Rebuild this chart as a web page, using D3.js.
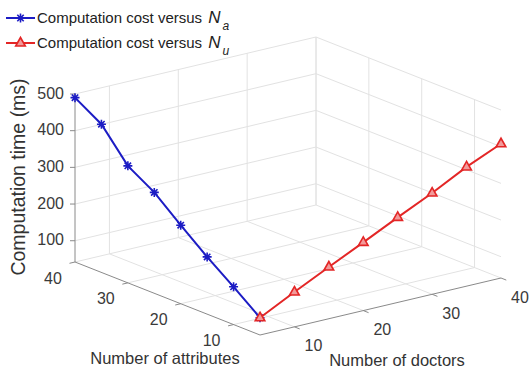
<!DOCTYPE html>
<meta charset="utf-8">
<style>

  body {
    margin: 0;
    background: #fff;
  }

  text {
    font-family: "Liberation Sans", Arial, sans-serif;
  }

  .grid line {
    stroke: #e2e2e2;
    stroke-width: 1;
  }

  .axis line {
    stroke: #8a8a8a;
    stroke-width: 1;
  }

  .tick-label {
    fill: #3a3a3a;
    font-size: 16px;
  }

  .axis-label {
    fill: #333;
    font-size: 16.5px;
  }

</style>
<svg width="532" height="369"></svg>
<script src="https://d3js.org/d3.v7.min.js"></script>
<script>

  // values
  var attributes = [5, 10, 15, 20, 25, 30, 35, 40];
  var costVsAttributes = [89, 145, 198, 256, 317, 361, 446, 490];
  var doctors = [5, 10, 15, 20, 25, 30, 35, 40];
  var costVsDoctors = [89, 137, 183, 228, 274, 318, 367, 408];

  var attributeTicks = [10, 20, 30, 40],
      doctorTicks = [10, 20, 30, 40],
      timeTicks = [100, 200, 300, 400, 500];

  var svg = d3.select("svg");

  // each scale gives the fraction along its box edge
  var na = d3.scaleLinear().domain([5, 40]).range([0, 1]),
      nu = d3.scaleLinear().domain([5, 40]).range([0, 1]),
      tz = d3.scaleLinear().domain([42, 500]).range([0, 1]);

  // screen position of the front bottom corner and screen length of each edge
  var origin = [260, 335],
      naVec = [-185, -73],
      nuVec = [241, -57],
      tzVec = [0, -168];

  function proj(a, d, z) {
    var u = na(a), v = nu(d), w = tz(z);
    return [origin[0] + u * naVec[0] + v * nuVec[0] + w * tzVec[0],
            origin[1] + u * naVec[1] + v * nuVec[1] + w * tzVec[1]];
  }

  var aMin = na.domain()[0], aMax = na.domain()[1],
      dMin = nu.domain()[0], dMax = nu.domain()[1],
      zMin = tz.domain()[0];

  function seg(g, p, q) {
    g.append("line")
      .attr("x1", p[0]).attr("y1", p[1])
      .attr("x2", q[0]).attr("y2", q[1]);
  }

  // grid on floor and the two back walls
  var grid = svg.append("g").attr("class", "grid");
  attributeTicks.forEach(function(a) {
    seg(grid, proj(a, dMin, zMin), proj(a, dMax, zMin));
    seg(grid, proj(a, dMax, zMin), proj(a, dMax, 500));
  });
  doctorTicks.forEach(function(d) {
    seg(grid, proj(aMin, d, zMin), proj(aMax, d, zMin));
    seg(grid, proj(aMax, d, zMin), proj(aMax, d, 500));
  });
  timeTicks.forEach(function(z) {
    seg(grid, proj(aMax, dMin, z), proj(aMax, dMax, z));
    seg(grid, proj(aMax, dMax, z), proj(aMin, dMax, z));
  });

  // axes
  var axis = svg.append("g").attr("class", "axis");
  seg(axis, proj(aMin, dMin, zMin), proj(aMax, dMin, zMin));
  seg(axis, proj(aMin, dMin, zMin), proj(aMin, dMax, zMin));
  seg(axis, proj(aMax, dMin, zMin), proj(aMax, dMin, 500));

  attributeTicks.forEach(function(a) {
    seg(axis, proj(a, dMin, zMin), proj(a, dMin - 0.8, zMin));
    var p = proj(a, dMin, zMin);
    svg.append("text")
      .attr("class", "tick-label")
      .attr("x", p[0] - 22)
      .attr("y", p[1] + 16)
      .attr("dy", "0.35em")
      .attr("text-anchor", "middle")
      .text(a);
  });

  doctorTicks.forEach(function(d) {
    seg(axis, proj(aMin, d, zMin), proj(aMin - 1, d, zMin));
    var p = proj(aMin, d, zMin);
    svg.append("text")
      .attr("class", "tick-label")
      .attr("x", p[0] + 19)
      .attr("y", p[1] + 19)
      .attr("dy", "0.35em")
      .attr("text-anchor", "middle")
      .text(d);
  });

  timeTicks.forEach(function(z) {
    var p = proj(aMax, dMin, z);
    seg(axis, p, [p[0] - 5, p[1]]);
    svg.append("text")
      .attr("class", "tick-label")
      .attr("x", p[0] - 11)
      .attr("y", p[1] - 1)
      .attr("dy", "0.35em")
      .attr("text-anchor", "end")
      .text(z);
  });

  svg.append("text")
    .attr("class", "axis-label")
    .attr("text-anchor", "middle")
    .attr("transform", "translate(25,177) rotate(-90)")
    .style("font-size", "19.5px")
    .text("Computation time (ms)");

  svg.append("text")
    .attr("class", "axis-label")
    .attr("x", 165)
    .attr("y", 364)
    .attr("text-anchor", "middle")
    .text("Number of attributes");

  svg.append("text")
    .attr("class", "axis-label")
    .attr("x", 397)
    .attr("y", 366)
    .attr("text-anchor", "middle")
    .text("Number of doctors");

  // series
  var blue = "#1c1cc4", red = "#e32626";
  var line = d3.line();

  var bluePts = attributes.map(function(a, i) { return proj(a, dMin, costVsAttributes[i]); });
  var redPts = doctors.map(function(d, i) { return proj(aMin, d, costVsDoctors[i]); });

  var star = "M-4.5,0H4.5M0,-4.5V4.5M-3.2,-3.2L3.2,3.2M-3.2,3.2L3.2,-3.2";
  var tri = "M0,-5.5L4.8,3L-4.8,3Z";

  svg.append("path")
    .attr("d", line(bluePts))
    .attr("fill", "none")
    .attr("stroke", blue)
    .attr("stroke-width", 2);
  svg.selectAll(".star")
    .data(bluePts)
    .enter().append("path")
    .attr("class", "star")
    .attr("transform", function(p) { return "translate(" + p[0] + "," + p[1] + ")"; })
    .attr("d", star)
    .attr("stroke", blue)
    .attr("stroke-width", 1.6)
    .attr("fill", "none");

  svg.append("path")
    .attr("d", line(redPts))
    .attr("fill", "none")
    .attr("stroke", red)
    .attr("stroke-width", 2);
  svg.selectAll(".tri")
    .data(redPts)
    .enter().append("path")
    .attr("class", "tri")
    .attr("transform", function(p) { return "translate(" + p[0] + "," + p[1] + ")"; })
    .attr("d", tri)
    .attr("stroke", red)
    .attr("stroke-width", 1.6)
    .attr("fill", "#f29a9a");

  // legend
  var legend = [
    {color: blue, marker: star, sub: "a", y: 18},
    {color: red, marker: tri, sub: "u", y: 43}
  ];
  legend.forEach(function(l) {
    svg.append("line")
      .attr("x1", 6).attr("x2", 35)
      .attr("y1", l.y).attr("y2", l.y)
      .attr("stroke", l.color)
      .attr("stroke-width", 2);
    svg.append("path")
      .attr("transform", "translate(20.5," + l.y + ")")
      .attr("d", l.marker)
      .attr("stroke", l.color)
      .attr("stroke-width", 1.6)
      .attr("fill", l.marker === tri ? "#f29a9a" : "none");
    var t = svg.append("text")
      .attr("x", 37)
      .attr("y", l.y + 5)
      .style("font-size", "15px")
      .style("fill", "#222");
    t.append("tspan").text("Computation cost versus ");
    t.append("tspan")
      .attr("dx", 2)
      .style("font-style", "italic")
      .style("font-size", "17px")
      .text("N");
    t.append("tspan")
      .attr("dy", 7)
      .attr("dx", 2)
      .style("font-size", "12px")
      .style("font-style", "italic")
      .text(l.sub);
  });

</script>
